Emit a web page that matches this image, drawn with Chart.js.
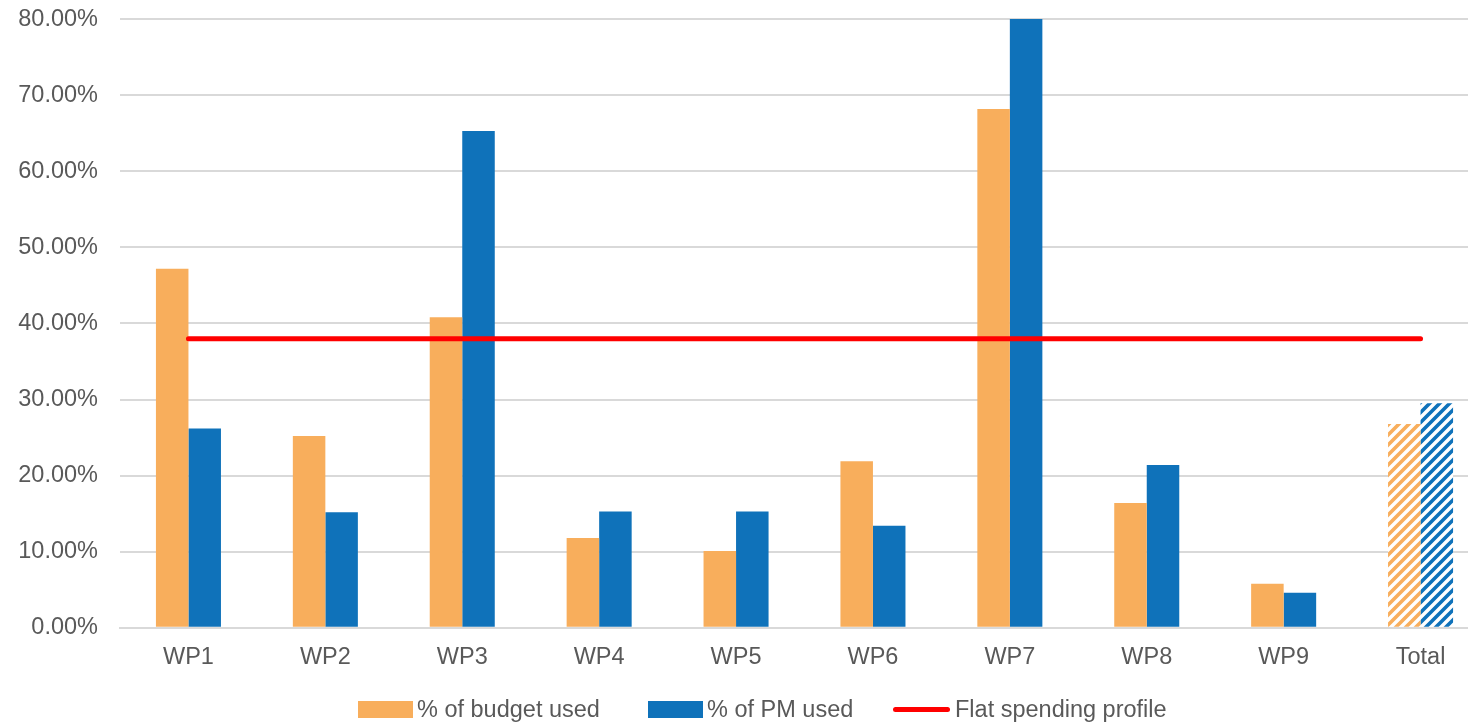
<!DOCTYPE html>
<html>
<head>
<meta charset="utf-8">
<script src="https://cdn.jsdelivr.net/npm/chart.js@4/dist/chart.umd.min.js"></script>
<style>
  html, body { margin: 0; padding: 0; background: #fff; overflow: hidden; width: 1468px; height: 723px; }
  #wrap { position: absolute; left: 0; top: -17px; width: 1489px; height: 755px; }
  #c { display: block; width: 1489px; height: 755px; }
  #legend { position: absolute; top: 694px; left: 0; width: 1468px; height: 30px; font-family: "Liberation Sans", Arial, sans-serif; font-size: 23.5px; color: #595959; }
  .item { position: absolute; top: 0; height: 30px; display: flex; align-items: center; white-space: nowrap; }
  .box { width: 55px; height: 17px; margin-right: 4px; }
  .ln { width: 57px; height: 5px; border-radius: 3px; background: #FF0000; margin-right: 5px; }
</style>
</head>
<body>
<div id="wrap"><canvas id="c" width="1489" height="755"></canvas></div>
<div id="legend">
  <div class="item" style="left:358px"><div class="box" style="background:#F8AE5C"></div><span id="l0"></span></div>
  <div class="item" style="left:648px"><div class="box" style="background:#0F72BA"></div><span id="l1"></span></div>
  <div class="item" style="left:893px"><div class="ln"></div><span id="l2"></span></div>
</div>
<script>
const categories = ["WP1", "WP2", "WP3", "WP4", "WP5", "WP6", "WP7", "WP8", "WP9", "Total"];
const budgetUsed = [47.2, 25.2, 40.8, 11.8, 10.1, 21.9, 68.2, 16.4, 5.8, 26.8];
const pmUsed = [26.2, 15.2, 65.3, 15.3, 15.3, 13.4, 82.0, 21.4, 4.6, 29.5];
const flatProfile = [38, 38, 38, 38, 38, 38, 38, 38, 38, 38];
const seriesNames = ["% of budget used", "% of PM used", "Flat spending profile"];

const ORANGE = "#F8AE5C", BLUE = "#0F72BA", RED = "#FF0000";

document.getElementById("l0").textContent = seriesNames[0];
document.getElementById("l1").textContent = seriesNames[1];
document.getElementById("l2").textContent = seriesNames[2];

function hatch(color) {
  const s = 10;
  const cv = document.createElement("canvas");
  cv.width = s; cv.height = s;
  const g = cv.getContext("2d");
  g.fillStyle = "#fff"; g.fillRect(0, 0, s, s);
  g.strokeStyle = color; g.lineWidth = 3.6; g.lineCap = "square";
  g.beginPath();
  g.moveTo(-2, s + 2); g.lineTo(s + 2, -2);
  g.moveTo(-s / 2 - 2, s / 2 + 2); g.lineTo(s / 2 + 2, -s / 2 - 2);
  g.moveTo(s / 2 - 2, s * 1.5 + 2); g.lineTo(s * 1.5 + 2, s / 2 - 2);
  g.stroke();
  return g.createPattern(cv, "repeat");
}

const last = categories.length - 1;
const orangeFill = categories.map((c, i) => i === last ? hatch(ORANGE) : ORANGE);
const blueFill = categories.map((c, i) => i === last ? hatch(BLUE) : BLUE);

const FONT = { family: "'Liberation Sans', Arial, sans-serif", size: 23.5 };

new Chart(document.getElementById("c"), {
  type: "bar",
  data: {
    labels: categories,
    datasets: [
      { type: "line", label: seriesNames[2], data: flatProfile, borderColor: RED, backgroundColor: RED, borderWidth: 5, pointRadius: 0, borderCapStyle: "round", order: 0 },
      { label: seriesNames[0], data: budgetUsed, backgroundColor: orangeFill, borderWidth: 0, order: 1, categoryPercentage: 0.475, barPercentage: 1 },
      { label: seriesNames[1], data: pmUsed, backgroundColor: blueFill, borderWidth: 0, order: 2, categoryPercentage: 0.475, barPercentage: 1 }
    ]
  },
  options: {
    responsive: false,
    maintainAspectRatio: false,
    animation: false,
    devicePixelRatio: 1,
    layout: { padding: { left: 18, right: 0, top: 5, bottom: 50 } },
    plugins: { legend: { display: false }, tooltip: { enabled: false } },
    scales: {
      x: {
        grid: { display: false, drawTicks: false },
        border: { display: true, color: "#D9D9D9", width: 2 },
        ticks: { font: FONT, color: "#595959", padding: 16, maxRotation: 0, autoSkip: false }
      },
      y: {
        min: 0, max: 80,
        grid: { color: "#D9D9D9", lineWidth: 2, drawTicks: false },
        border: { display: false },
        afterFit: s => { s.width = 102; },
        ticks: { stepSize: 10, font: FONT, color: "#595959", padding: 22, callback: v => v.toFixed(2) + "%" }
      }
    }
  }
});
</script>
</body>
</html>
